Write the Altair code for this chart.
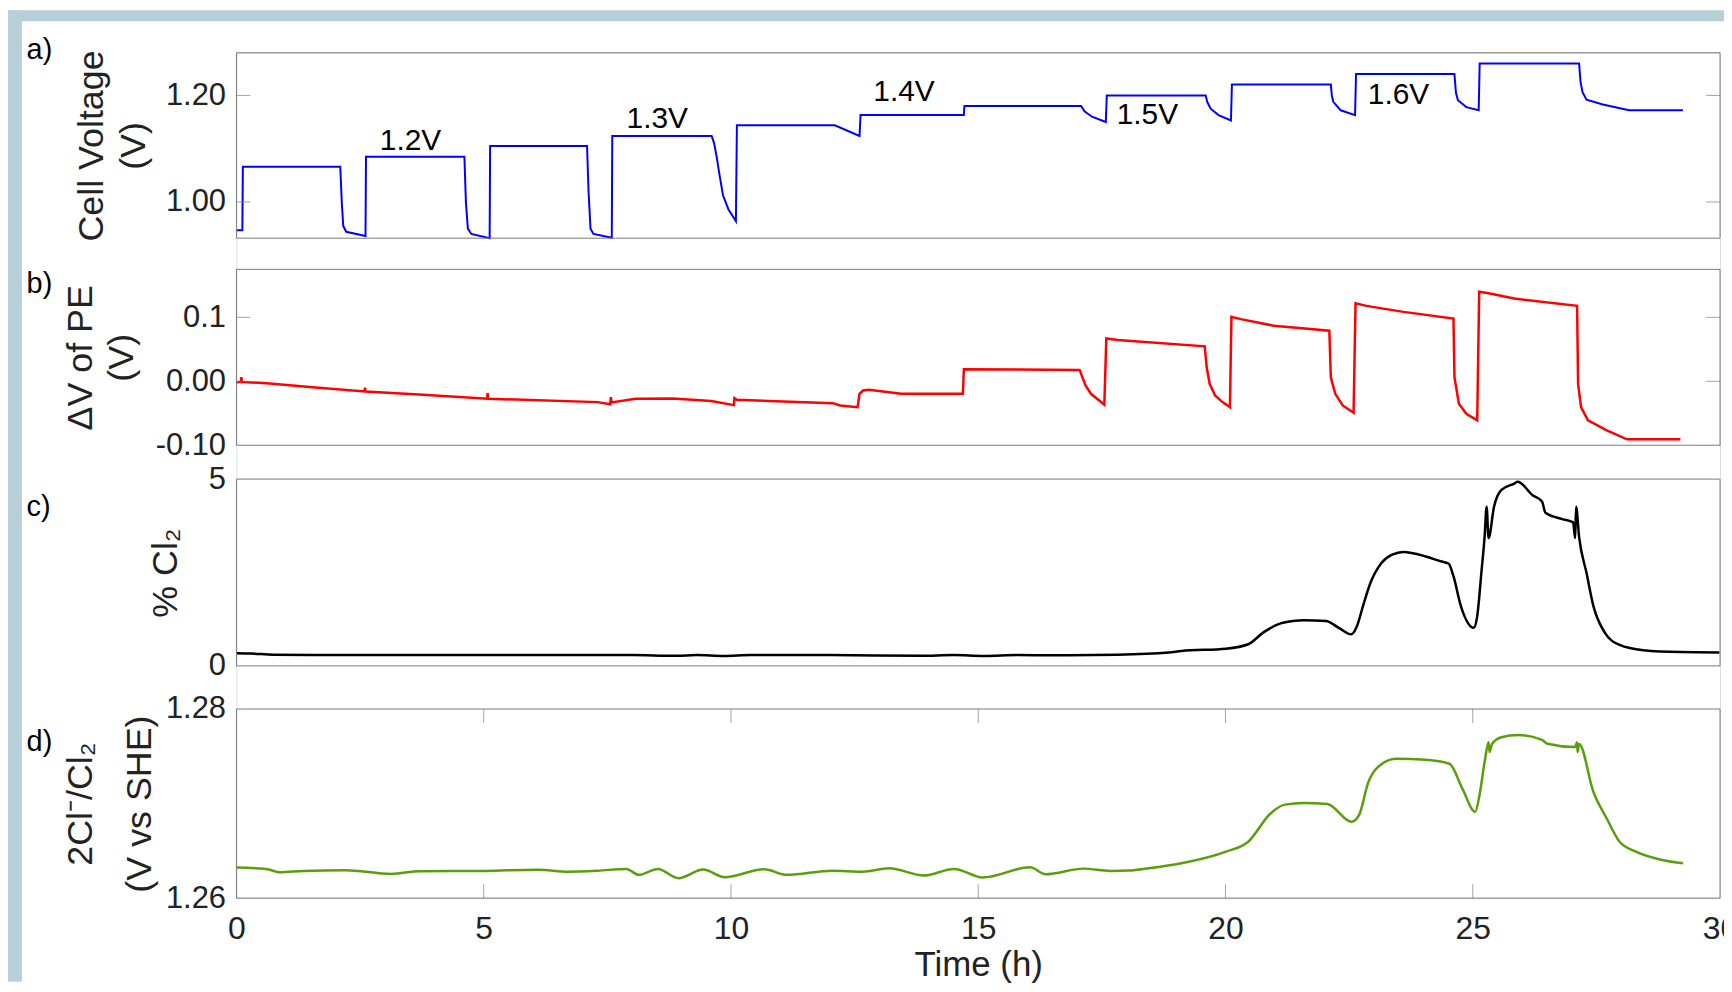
import altair as alt
import pandas as pd

# ---------------- data ----------------
# a) cell voltage (V) vs time (h)
t_a = [0.00, 0.12, 0.13, 2.10, 2.13, 2.16, 2.22, 2.61, 2.62,
       4.61, 4.64, 4.68, 4.75, 5.12, 5.13,
       7.09, 7.12, 7.16, 7.22, 7.59, 7.60,
       9.61, 9.66, 9.71, 9.77, 9.84, 9.95, 10.10, 10.12,
       12.10, 12.60, 12.62,
       14.71, 14.72,
       17.08, 17.15, 17.30, 17.58, 17.60,
       19.60, 19.63, 19.70, 19.86, 20.11, 20.13,
       22.13, 22.15, 22.18, 22.33, 22.62, 22.64,
       24.63, 24.66, 24.70, 24.87, 25.12, 25.14,
       27.15, 27.18, 27.22, 27.30, 27.63, 28.16, 29.25]
v_a = [0.947, 0.947, 1.066, 1.066, 1.000, 0.955, 0.944, 0.936, 1.085,
       1.085, 1.000, 0.950, 0.940, 0.932, 1.105,
       1.105, 1.020, 0.950, 0.940, 0.933, 1.124,
       1.124, 1.110, 1.085, 1.050, 1.012, 0.986, 0.964, 1.144,
       1.144, 1.124, 1.163,
       1.163, 1.180,
       1.180, 1.170, 1.160, 1.150, 1.200,
       1.200, 1.188, 1.175, 1.163, 1.153, 1.2205,
       1.2205, 1.200, 1.188, 1.172, 1.163, 1.240,
       1.240, 1.205, 1.191, 1.178, 1.172, 1.260,
       1.260, 1.225, 1.206, 1.192, 1.183, 1.172, 1.172]

# b) delta V of PE (V)
t_b = [0.00, 0.09, 0.10, 0.11, 0.61, 1.54, 2.59, 2.60, 2.61, 3.69, 5.07, 5.08, 5.09,
       7.30, 7.56, 7.57, 7.59, 8.07, 8.83, 9.60, 10.06, 10.07, 10.12,
       12.06, 12.21, 12.56, 12.60, 12.67, 12.79, 13.44, 14.69, 14.71,
       17.05, 17.17, 17.28, 17.55, 17.59, 17.82,
       19.58, 19.62, 19.68, 19.79, 19.94, 20.09, 20.12, 20.31, 20.98,
       22.10, 22.13, 22.22, 22.37, 22.59, 22.63, 22.85, 23.60,
       24.61, 24.63, 24.72, 24.87, 25.09, 25.13, 25.32, 25.84,
       27.11, 27.13, 27.19, 27.33, 27.71, 28.12, 29.20]
v_b = [-0.0015, -0.001, 0.0063, -0.001, -0.003, -0.0093, -0.016, -0.010, -0.016, -0.0206, -0.0273, -0.0186, -0.0273,
       -0.0326, -0.036, -0.0248, -0.033, -0.0273, -0.0269, -0.031, -0.0373, -0.0264, -0.0289,
       -0.0342, -0.0378, -0.0404, -0.0196, -0.0144, -0.0133, -0.0196, -0.0196, 0.0188,
       0.0178, -0.0066, -0.0196, -0.0367, 0.067, 0.0645,
       0.0546, 0.0219, -0.004, -0.0222, -0.0326, -0.0404, 0.1008, 0.0972, 0.0868,
       0.079, 0.0063, -0.0196, -0.0378, -0.0491, 0.122, 0.1179, 0.1085,
       0.0981, 0.0063, -0.035, -0.0507, -0.0611, 0.140, 0.1376, 0.1293,
       0.1179, -0.004, -0.0404, -0.0611, -0.0767, -0.0907, -0.0907]

# c) % Cl2
t_c = [0.00, 0.30, 0.75, 2.0, 4.0, 6.0, 8.0, 8.90, 9.30, 9.86, 10.40, 12.0,
       13.84, 14.50, 15.12, 15.80, 16.54, 17.82,
       18.85, 19.11, 20.01, 20.46, 20.76, 21.06, 21.36, 21.58,
       22.03, 22.29, 22.54, 22.66, 22.78, 22.93, 23.15, 23.37, 23.60,
       24.05, 24.35, 24.51, 24.61, 24.76, 25.02, 25.09, 25.18, 25.24, 25.28, 25.32,
       25.43, 25.58, 25.84, 25.91, 26.21, 26.40, 26.47, 26.81, 27.03, 27.07, 27.09, 27.15,
       27.30, 27.44, 27.67, 27.97, 28.45, 29.20, 29.99]
v_c = [0.34, 0.33, 0.30, 0.29, 0.29, 0.295, 0.29, 0.27, 0.29, 0.265, 0.29, 0.29,
       0.27, 0.29, 0.265, 0.29, 0.285, 0.30,
       0.356, 0.40, 0.46, 0.58, 0.89, 1.11, 1.20, 1.225,
       1.20, 1.02, 0.845, 1.07, 1.60, 2.22, 2.75, 2.98, 3.05,
       2.93, 2.80, 2.74, 2.40, 1.60, 1.02, 1.33, 2.58, 3.46, 4.26, 3.42,
       4.26, 4.71, 4.88, 4.93, 4.57, 4.40, 4.10, 3.93, 3.84, 3.42, 4.26, 3.46,
       2.49, 1.60, 0.89, 0.56, 0.42, 0.37, 0.36]

# d) 2Cl-/Cl2 potential (V vs SHE)
t_d = [0.00, 0.60, 0.87, 1.36, 2.20, 3.13, 3.70, 5.00, 6.10, 6.70,
       7.30, 7.88, 8.14, 8.52, 8.94, 9.44, 9.87, 10.67, 11.13, 12.05,
       12.66, 13.20, 13.90, 14.51, 15.09, 16.05, 16.36, 17.13, 17.67, 18.06,
       18.45, 19.11, 20.01, 20.46, 20.91, 21.20, 21.58, 22.06, 22.55, 22.70,
       22.89, 23.08, 23.45, 24.05, 24.53, 24.79, 25.05, 25.13, 25.24, 25.32,
       25.34, 25.39, 25.58, 25.91, 26.40, 26.51, 27.07, 27.11, 27.12, 27.15,
       27.44, 27.71, 27.97, 28.30, 28.83, 29.25]
v_d = [1.26323, 1.26309, 1.26274, 1.26288, 1.26295, 1.26256, 1.26285, 1.26288, 1.26300, 1.26280,
       1.26290, 1.26309, 1.26246, 1.26309, 1.26211, 1.26302, 1.26221, 1.26305, 1.26246, 1.26290,
       1.26280, 1.26316, 1.26239, 1.26309, 1.26218, 1.26326, 1.26253, 1.26312, 1.26288, 1.26291,
       1.26316, 1.26368, 1.26491, 1.26596, 1.26895, 1.26989, 1.27007, 1.26996, 1.26807, 1.26877,
       1.27228, 1.27386, 1.27474, 1.27463, 1.27421, 1.27158, 1.26912, 1.27070, 1.27439, 1.27649,
       1.27544, 1.27630, 1.27702, 1.27726, 1.27674, 1.27632, 1.27597, 1.27649, 1.27544, 1.27630,
       1.27123, 1.26842, 1.26596, 1.26491, 1.26403, 1.26368]

# step annotations in panel a
ann_text = ["1.2V", "1.3V", "1.4V", "1.5V", "1.6V"]
ann_t = [3.52, 8.51, 13.50, 18.42, 23.50]
ann_v = [1.1144, 1.1564, 1.2062, 1.1627, 1.200]

# axis domains, ticks and tick labels
x_domain = [0, 30]
x_ticks = [0, 5, 10, 15, 20, 25, 30]
x_inner_ticks = [5, 10, 15, 20, 25]

dom_a = [0.932, 1.28]
ticks_a = [1.0, 1.2]
labels_a = ["1.00", "1.20"]

dom_b = [-0.1, 0.175]
ticks_b = [0.1, 0.0, -0.1]
labels_b = ["0.1", "0.00", "-0.10"]
inner_b = [0.1, 0.0]

dom_c = [0, 5]
ticks_c = [0, 5]
labels_c = ["0", "5"]

dom_d = [1.26, 1.28]
ticks_d = [1.26, 1.28]
labels_d = ["1.26", "1.28"]

panel_labels = ["a)", "b)", "c)", "d)"]

# ---------------- layout / style ----------------
W = 1490.5
H = 849.3
BAND_A = (0.0, 186.3)
BAND_B = (217.6, 394.3)
BAND_C = (428.3, 616.0)
BAND_D = (659.3, 849.3)
PAD = {"left": 229.5, "top": 42.7, "right": 4, "bottom": 84}

FONT = "Liberation Sans, Arial, Helvetica, sans-serif"
TXT = "#222222"
FRAME = "#7a7a7a"
STRIP = "#b8cfda"
TICK = 14
TITLE_FS = 36

xscale = alt.Scale(domain=x_domain, nice=False, zero=False)
one = pd.DataFrame({"k": [0]})


def label_expr(vals, labs):
    expr = "''"
    for v, s in reversed(list(zip(vals, labs))):
        expr = f"abs(datum.value - ({v})) < 1e-6 ? '{s}' : {expr}"
    return expr


def y_axis(vals, labs, title, title_x, lh):
    return alt.Axis(orient="left", values=vals, labelExpr=label_expr(vals, labs),
                    domain=False, ticks=False, grid=False,
                    labelPadding=11, labelFontSize=31, labelColor=TXT,
                    labelOverlap=False, labelFlush=False, labelBaseline="middle",
                    title=title, titleX=title_x, titleLineHeight=lh,
                    titleFontSize=TITLE_FS, titleFontWeight="normal", titleColor=TXT)


def panel(t, v, color, sw, dom, band, vals, labs, title, title_x, lh,
          inner=None, xaxis=None, extra=None, interp="linear"):
    df = pd.DataFrame({"t": t, "v": v, "i": list(range(len(t)))})
    yscale = alt.Scale(domain=dom, range=[band[1], band[0]], nice=False, zero=False)
    xenc = alt.X("t:Q", scale=xscale, axis=xaxis) if xaxis is not None else alt.X("t:Q", scale=xscale)
    line = alt.Chart(df).mark_line(color=color, strokeWidth=sw, interpolate=interp).encode(
        x=xenc,
        y=alt.Y("v:Q", scale=yscale, axis=y_axis(vals, labs, title, title_x, lh)),
        order=alt.Order("i:Q"))
    frame = alt.Chart(one).mark_rect(fillOpacity=0, stroke=FRAME, strokeWidth=1).encode(
        x=alt.XDatum(x_domain[0]), x2=alt.X2Datum(x_domain[1]),
        y=alt.YDatum(dom[0]), y2=alt.Y2Datum(dom[1]))
    layers = [line, frame]
    if inner:
        tdf = pd.DataFrame({"tv": inner})
        left = alt.Chart(tdf).mark_tick(orient="horizontal", size=TICK, thickness=1,
                                        color=FRAME, xOffset=TICK / 2).encode(
            x=alt.XDatum(x_domain[0]), y=alt.Y("tv:Q"))
        right = alt.Chart(tdf).mark_tick(orient="horizontal", size=TICK, thickness=1,
                                         color=FRAME, xOffset=-TICK / 2).encode(
            x=alt.XDatum(x_domain[1]), y=alt.Y("tv:Q"))
        layers += [left, right]
    if extra is not None:
        layers += extra(dom)
    return alt.layer(*layers)


def annotations(dom):
    adf = pd.DataFrame({"s": ann_text, "at": ann_t, "av": ann_v})
    return [alt.Chart(adf).mark_text(fontSize=30, color="#000000", align="center",
                                     baseline="middle", font=FONT).encode(
        x=alt.X("at:Q"), y=alt.Y("av:Q"), text="s:N")]


def xticks_d(dom):
    xdf = pd.DataFrame({"xv": x_inner_ticks})
    top = alt.Chart(xdf).mark_tick(orient="vertical", size=TICK, thickness=1,
                                   color=FRAME, yOffset=TICK / 2).encode(
        x=alt.X("xv:Q"), y=alt.YDatum(dom[1]))
    bot = alt.Chart(xdf).mark_tick(orient="vertical", size=TICK, thickness=1,
                                   color=FRAME, yOffset=-TICK / 2).encode(
        x=alt.X("xv:Q"), y=alt.YDatum(dom[0]))
    return [top, bot]


x_axis = alt.Axis(orient="bottom", values=x_ticks, format="d", domain=False, ticks=False,
                  grid=False, labelFontSize=32, labelColor=TXT, labelPadding=41,
                  labelBaseline="alphabetic", labelFlush=False, labelOverlap=False,
                  title="Time (h)", titleFontSize=35, titleFontWeight="normal",
                  titleColor=TXT, titleY=78, titleBaseline="alphabetic")

pa = panel(t_a, v_a, "#0000ff", 2, dom_a, BAND_A, ticks_a, labels_a,
           ["Cell Voltage", "(V)"], -126.6, 42, inner=ticks_a, extra=annotations)
pb = panel(t_b, v_b, "#ff0000", 2.5, dom_b, BAND_B, ticks_b, labels_b,
           ["\u0394V of PE", "(V)"], -138, 42, inner=inner_b)
pc = panel(t_c, v_c, "#000000", 2.5, dom_c, BAND_C, ticks_c, labels_c,
           "% Cl\u2082", -52, 42, interp="monotone")
pd_ = panel(t_d, v_d, "#5b9e0b", 2.5, dom_d, BAND_D, ticks_d, labels_d,
            ["2Cl\u207b/Cl\u2082", "(V vs SHE)"], -138, 60, xaxis=x_axis,
            extra=xticks_d, interp="monotone")

# page frame strips (decoration)
strip_left = alt.Chart(one).mark_rect(color=STRIP).encode(
    x=alt.value(-229.5), x2=alt.value(-215.5), y=alt.value(-42.7), y2=alt.value(H + 84))
strip_top = alt.Chart(one).mark_rect(color=STRIP).encode(
    x=alt.value(-229.5), x2=alt.value(W + 4), y=alt.value(-42.7), y2=alt.value(-31.7))

label_pos = [(-210.8, 6.7), (-210.8, 241.7), (-210.8, 465.1), (-210.8, 701.7)]
plabels = []
for s, (px, py) in zip(panel_labels, label_pos):
    plabels.append(alt.Chart(pd.DataFrame({"s": [s]})).mark_text(
        fontSize=29, color="#000000", align="left", baseline="alphabetic", font=FONT).encode(
        x=alt.value(px), y=alt.value(py), text="s:N"))

chart = alt.layer(pd_, pa, pb, pc, strip_left, strip_top, *plabels).resolve_scale(
    y="independent").resolve_axis(y="independent").properties(
    width=W, height=H, padding=PAD, background="white",
    autosize=alt.AutoSizeParams(type="none")
).configure_view(strokeWidth=0).configure(font=FONT)

chart.save("out.html", embed_options={"renderer": "svg", "actions": False})
